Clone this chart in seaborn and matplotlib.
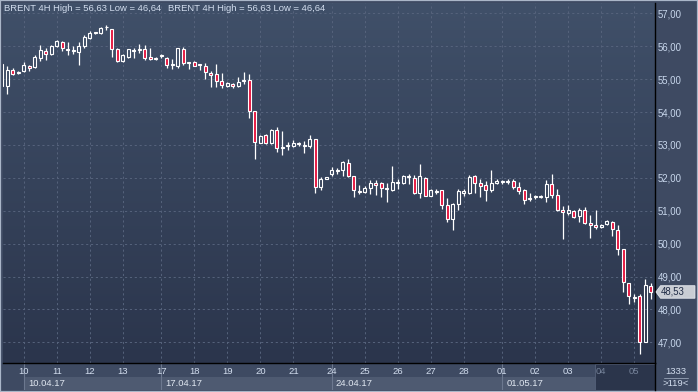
import numpy as np
import matplotlib
matplotlib.use("Agg")
import matplotlib.pyplot as plt
import matplotlib.transforms as mtransforms
from matplotlib.patches import Polygon, Rectangle
import seaborn as sns

# =============================================
# DATA: BRENT 4H candles
# =============================================
opens = [55.45, 54.79, 55.29, 55.20, 55.26, 55.41, 55.36, 55.65, 55.85, 55.77,
         56.00, 56.13, 55.93, 55.84, 55.83, 56.00, 56.25, 56.44, 56.39, 56.57,
         56.53, 55.92, 55.55, 55.68, 55.86, 55.87, 55.92, 55.67, 55.62, 55.70,
         55.65, 55.42, 55.39, 55.92, 55.49, 55.51, 55.42, 55.41, 55.19, 55.14,
         54.94, 54.80, 54.86, 54.80, 54.93, 54.96, 54.02, 53.07, 53.30, 53.05,
         53.44, 52.90, 52.97, 52.98, 53.02, 52.98, 52.98, 53.17, 51.73, 51.96,
         52.11, 52.21, 52.24, 52.44, 52.04, 51.61, 51.58, 51.70, 51.85, 51.83,
         51.66, 51.64, 51.84, 51.84, 52.02, 52.00, 51.54, 52.00, 51.44, 51.57,
         51.62, 51.18, 50.76, 51.21, 51.55, 51.55, 52.04, 51.85, 51.77, 51.64,
         51.85, 51.86, 51.87, 51.90, 51.72, 51.62, 51.39, 51.41, 51.41, 51.41,
         51.82, 51.48, 51.03, 50.93, 50.98, 50.84, 51.01, 50.64, 50.58, 50.51,
         50.61, 50.66, 50.42, 49.85, 48.79, 48.38, 48.41, 47.02, 48.72]
highs = [55.47, 55.39, 55.34, 55.25, 55.51, 55.44, 55.73, 56.05, 55.95, 56.05,
         56.18, 56.15, 56.13, 56.00, 56.13, 56.33, 56.46, 56.44, 56.59, 56.63,
         56.53, 55.95, 55.77, 55.92, 55.95, 56.08, 56.05, 55.95, 55.68, 55.77,
         55.68, 55.60, 55.95, 55.98, 55.51, 55.54, 55.47, 55.49, 55.24, 55.47,
         55.19, 54.91, 54.87, 55.07, 55.21, 55.17, 54.02, 53.30, 53.33, 53.49,
         53.54, 53.41, 53.10, 53.15, 53.08, 53.13, 53.30, 53.17, 52.02, 52.03,
         52.34, 52.29, 52.52, 52.56, 52.06, 51.78, 51.75, 51.94, 51.92, 51.88,
         51.83, 52.37, 51.97, 52.10, 52.12, 52.07, 52.42, 52.02, 51.67, 51.67,
         51.64, 51.39, 51.23, 51.67, 51.67, 52.10, 52.07, 51.95, 51.90, 52.25,
         51.95, 51.94, 51.95, 51.95, 51.87, 51.67, 51.55, 51.48, 51.48, 51.92,
         52.12, 51.65, 51.13, 51.18, 51.03, 51.08, 51.11, 50.88, 51.01, 50.61,
         50.71, 50.68, 50.56, 49.85, 48.79, 48.48, 48.48, 48.92, 48.79]
lows = [54.78, 54.55, 55.12, 55.17, 55.22, 55.24, 55.34, 55.56, 55.57, 55.73,
        55.98, 55.85, 55.73, 55.75, 55.44, 55.95, 56.23, 56.37, 56.36, 56.48,
        55.68, 55.52, 55.52, 55.65, 55.65, 55.80, 55.57, 55.57, 55.59, 55.65,
        55.34, 55.31, 55.34, 55.44, 55.31, 55.39, 55.29, 54.99, 54.77, 54.75,
        54.72, 54.77, 54.72, 54.75, 54.86, 53.81, 52.56, 53.05, 53.03, 53.03,
        52.77, 52.68, 52.85, 52.95, 52.97, 52.75, 52.90, 51.55, 51.63, 51.95,
        52.06, 52.12, 52.04, 52.02, 51.41, 51.51, 51.55, 51.51, 51.48, 51.41,
        51.27, 51.60, 51.67, 51.80, 51.80, 51.50, 51.39, 51.44, 51.44, 51.50,
        51.04, 50.66, 50.40, 51.03, 51.46, 51.52, 51.54, 51.43, 51.29, 51.57,
        51.82, 51.80, 51.80, 51.67, 51.52, 51.21, 51.29, 51.36, 51.38, 51.26,
        51.38, 50.99, 50.15, 50.86, 50.78, 50.66, 50.61, 50.17, 50.43, 50.48,
        50.58, 50.23, 49.65, 48.54, 48.15, 48.23, 46.64, 47.02, 48.32]
closes = [54.79, 55.29, 55.17, 55.23, 55.44, 55.34, 55.68, 55.87, 55.77, 56.02,
          56.15, 55.95, 55.88, 55.87, 56.00, 56.28, 56.40, 56.39, 56.56, 56.59,
          55.92, 55.55, 55.73, 55.90, 55.88, 55.90, 55.65, 55.62, 55.65, 55.73,
          55.42, 55.44, 55.95, 55.49, 55.51, 55.41, 55.44, 55.22, 55.11, 54.94,
          54.82, 54.87, 54.80, 54.92, 54.96, 54.02, 53.09, 53.28, 53.05, 53.46,
          52.90, 52.93, 53.00, 53.05, 53.05, 53.00, 53.18, 51.73, 51.96, 52.02,
          52.24, 52.24, 52.49, 52.04, 51.63, 51.58, 51.68, 51.85, 51.78, 51.68,
          51.69, 51.87, 51.87, 52.05, 52.05, 51.54, 52.04, 51.44, 51.62, 51.60,
          51.18, 50.76, 51.21, 51.59, 51.59, 52.02, 51.85, 51.74, 51.64, 51.85,
          51.89, 51.89, 51.89, 51.72, 51.60, 51.33, 51.36, 51.43, 51.46, 51.80,
          51.48, 51.03, 50.96, 51.01, 50.81, 51.01, 50.63, 50.58, 50.51, 50.58,
          50.69, 50.45, 49.85, 48.82, 48.40, 48.36, 47.02, 48.74, 48.53]

# candle index of the first bar of each day
day_ticks = [4, 10, 16, 22, 29, 35, 41, 47, 53, 60, 66, 72, 78, 84, 91, 97, 103, 109, 115]
day_labels = ["10", "11", "12", "13", "17", "18", "19", "20", "21", "24",
              "25", "26", "27", "28", "01", "02", "03", "04", "05"]
week_starts = [4, 29, 60, 91]
week_labels = ["10.04.17", "17.04.17", "24.04.17", "01.05.17"]
price_ticks = [47, 48, 49, 50, 51, 52, 53, 54, 55, 56, 57]
last_price = 48.53
title = "BRENT 4H High = 56,63 Low = 46,64"

# =============================================
# STYLE
# =============================================
STRIP = "#3e4a62"
RED = "#e5163f"
GRID = "#56637c"
TXT = "#d2ddee"

sns.set_theme(style="dark")
plt.rcParams["font.family"] = ["Liberation Sans", "DejaVu Sans"]

fig = plt.figure(figsize=(6.98, 3.92), dpi=100)
fig.patch.set_facecolor(STRIP)

X0, X1 = 0.22, 118.76
ax = fig.add_axes([3 / 698, 29 / 392, 652 / 698, 360 / 392])
ax2 = fig.add_axes([3 / 698, 2 / 392, 652 / 698, 27 / 392])
ax.set_zorder(2)
ax2.set_zorder(1)

# gradient background of the price pane
grad = np.linspace(0, 1, 256).reshape(-1, 1)
cmap = matplotlib.colors.LinearSegmentedColormap.from_list("bg", ["#405069", "#2b354c"])
ax.imshow(grad, cmap=cmap, aspect="auto", extent=[0, 1, 0, 1],
          transform=ax.transAxes, zorder=0)

# candles
o = np.array(opens)
c = np.array(closes)
h = np.array(highs)
l = np.array(lows)
x = np.arange(len(o))
up = c >= o
lo = np.minimum(o, c)
hi = np.maximum(o, c)
ax.vlines(x, hi, h, color="white", lw=0.9, zorder=3)
ax.vlines(x, l, lo, color="white", lw=0.9, zorder=3)
ax.bar(x, np.maximum(hi - lo, 0.025), bottom=lo, width=0.58,
       color=[(0, 0, 0, 0) if u else RED for u in up],
       edgecolor="white", linewidth=0.8, zorder=4)

ax.set_xlim(X0, X1)
ax.set_ylim(46.371, 57.313)

# grid + axes
ax.set_xticks(day_ticks)
ax.set_xticklabels(day_labels)
ax.set_yticks(price_ticks)
ax.set_yticklabels([f"{v:.2f}".replace(".", ",") for v in price_ticks])
ax.yaxis.tick_right()
ax.tick_params(axis="x", length=0, pad=2.8, labelsize=6.8, colors=TXT)
ax.tick_params(axis="y", length=0, pad=2.2, labelsize=6.9, colors="#c8d7ec")
for lab in ax.get_xticklabels()[-2:]:
    lab.set_color("#76839a")
ax.grid(True, color=GRID, linestyle=(0, (2.2, 2.8)), linewidth=0.7)
for s in ["left", "top"]:
    ax.spines[s].set_visible(False)
for s in ["right", "bottom"]:
    ax.spines[s].set_color("black")
    ax.spines[s].set_linewidth(1.0)

ax.text(0.0015, 0.986, title, transform=ax.transAxes, ha="left", va="center",
        fontsize=6.8, color=TXT, zorder=6)
ax.text(0.253, 0.986, title, transform=ax.transAxes, ha="left", va="center",
        fontsize=6.8, color=TXT, zorder=6)

# last price tag on the right scale
tr = mtransforms.blended_transform_factory(ax.transAxes, ax.transData)
d = 0.19
tag = Polygon([(1.0015, last_price), (1.0085, last_price + d), (1.0613, last_price + d),
               (1.0613, last_price - d), (1.0085, last_price - d)],
              closed=True, transform=tr, clip_on=False, facecolor="#c9cdd4",
              edgecolor="#e4e8ee", lw=0.6, zorder=7)
ax.add_patch(tag)
ax.text(1.0095, last_price, f"{last_price:.2f}".replace(".", ","), transform=tr,
        ha="left", va="center", fontsize=6.9, color="#1f2b45", zorder=8)

# bottom date strip
ax2.set_facecolor(STRIP)
ax2.set_xlim(X0, X1)
ax2.set_ylim(0, 27)
ax2.set_xticks([])
ax2.set_yticks([])
for s in ["left", "top", "bottom"]:
    ax2.spines[s].set_visible(False)
ax2.spines["right"].set_color("black")
ax2.spines["right"].set_linewidth(1.0)
week_ends = week_starts[1:] + [107.9]
for ws, we, wl in zip(week_starts, week_ends, week_labels):
    ax2.add_patch(Rectangle((ws, 0), we - ws, 13.3, facecolor="#4e5a71", edgecolor="none"))
    ax2.text(ws + 0.75, 6.6, wl, ha="left", va="center", fontsize=6.8, color="#dfe6f0")
ax2.add_patch(Rectangle((107.9, 0), X1 - 107.9, 26.3, facecolor="#2b354b",
                        edgecolor="#56627a", lw=0.6))
ax2.vlines(week_starts, 0, 27, color="#6c788f", lw=0.8)

# bar counter in the bottom right corner
fig.text(676 / 698, 1 - 371 / 392, "1333", ha="center", va="center", fontsize=6.8, color=TXT)
fig.text(676 / 698, 1 - 383.5 / 392, ">119<", ha="center", va="center", fontsize=6.8, color=TXT)
fig.add_artist(plt.Line2D([664 / 698, 688 / 698], [1 - 377.5 / 392] * 2,
                          color="#8b97ab", lw=0.7))

# outer frame
fig.add_artist(Rectangle((0, 0), 1, 1, transform=fig.transFigure, fill=False,
                         edgecolor="#aab6c8", lw=1.6))

fig.savefig("out.png", dpi=100, facecolor=fig.get_facecolor())
